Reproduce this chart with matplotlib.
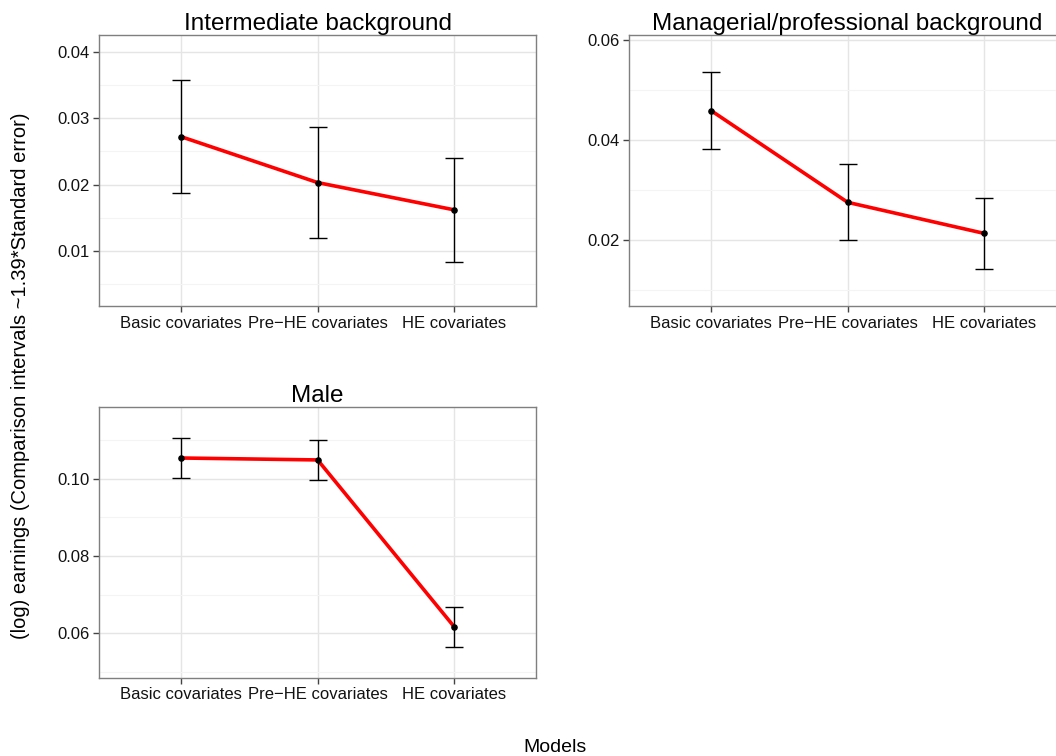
"""Earnings gaps across model specifications, three panels."""

import matplotlib
matplotlib.use('Agg')
import matplotlib.pyplot as plt
from matplotlib.ticker import MultipleLocator

plt.rcParams['font.family'] = ['Liberation Sans', 'DejaVu Sans']

MODELS = ['Basic covariates', 'Pre\u2212HE covariates', 'HE covariates']

# estimates and half-widths of the comparison intervals
INTER_EST = [0.0272, 0.0203, 0.0162]
INTER_CI = [0.0085, 0.0083, 0.0078]
MANAG_EST = [0.0459, 0.0276, 0.0214]
MANAG_CI = [0.0077, 0.0076, 0.0071]
MALE_EST = [0.1054, 0.1049, 0.0617]
MALE_CI = [0.0052, 0.0051, 0.0052]

PANELS = [
    ('Intermediate background', INTER_EST, INTER_CI, (0.00173, 0.0425), 0.01),
    ('Managerial/professional background', MANAG_EST, MANAG_CI, (0.0069, 0.061), 0.02),
    ('Male', MALE_EST, MALE_CI, (0.0485, 0.1187), 0.02),
]

# axes rectangles in figure fractions [left, bottom, width, height]
RECTS = [
    [0.0940, 0.5952, 0.4136, 0.3585],
    [0.5959, 0.5952, 0.4136, 0.3585],
    [0.0940, 0.1036, 0.4136, 0.3585],
]


def draw_panel(ax, title, est, ci, ylim, step):
    """Draw one ggplot-looking panel."""
    xs = list(range(1, len(MODELS) + 1))
    ax.set_xlim(0.4, len(MODELS) + 0.6)
    ax.set_ylim(*ylim)
    ax.yaxis.set_major_locator(MultipleLocator(step))
    ax.yaxis.set_minor_locator(MultipleLocator(step / 2))
    ax.set_xticks(xs)
    ax.set_xticklabels(MODELS)

    ax.grid(which='major', color='#e5e5e5', linewidth=1.0)
    ax.grid(which='minor', axis='y', color='#f4f4f4', linewidth=0.8)
    ax.set_axisbelow(True)

    ax.plot(xs, est, color='#ff0000', linewidth=2.6, zorder=3, solid_capstyle='butt')
    ax.errorbar(xs, est, yerr=ci, fmt='none', ecolor='black', elinewidth=1.0,
                capsize=6.5, capthick=1.0, zorder=4)
    ax.scatter(xs, est, s=14, color='black', zorder=5)

    for sp in ax.spines.values():
        sp.set_color('#7f7f7f')
        sp.set_linewidth(1.0)
    ax.tick_params(which='major', length=4, width=1.0, color='#444444',
                   labelsize=12, labelcolor='#111111', pad=3)
    ax.tick_params(which='minor', length=0)
    ax.set_title(title, fontsize=17.5, pad=3)


fig = plt.figure(figsize=(10.56, 7.56), dpi=100)
for rect, (title, est, ci, ylim, step) in zip(RECTS, PANELS):
    ax = fig.add_axes(rect)
    draw_panel(ax, title, est, ci, ylim, step)

fig.text(0.5256, 0.0053, 'Models', ha='center', va='baseline', fontsize=14)
fig.text(0.0195, 0.503, '(log) earnings (Comparison intervals ~1.39*Standard error)',
         rotation=90, ha='center', va='center', fontsize=14.5)

fig.savefig('out.png', dpi=100)
